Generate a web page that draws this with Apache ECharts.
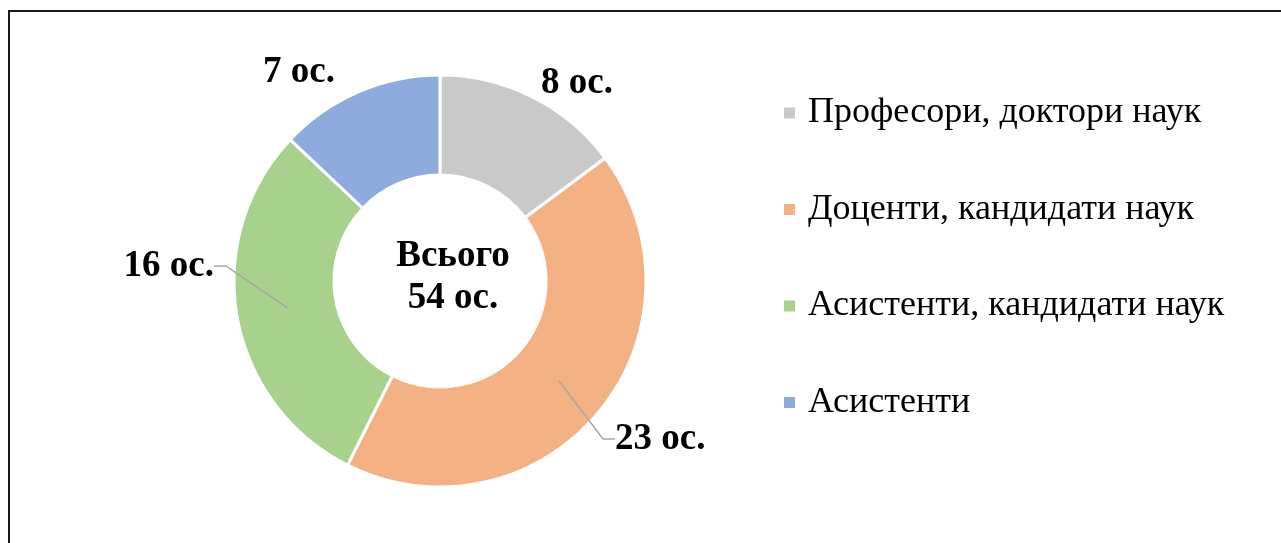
<!DOCTYPE html>
<html>
<head>
<meta charset="utf-8">
<script src="https://cdn.jsdelivr.net/npm/echarts@6/dist/echarts.min.js"></script>
<style>
  html, body { margin: 0; padding: 0; background: #fff; }
  .frame { position: absolute; left: 8px; top: 10px; width: 1400px; height: 700px; border-left: 2px solid #1a1a1a; border-top: 2px solid #1a1a1a; }
  #chart { position: absolute; left: 0; top: 0; width: 1281px; height: 543px; }
</style>
</head>
<body>
<div class="frame"></div>
<div id="chart"></div>
<script>
const categories = ['Професори, доктори наук', 'Доценти, кандидати наук', 'Асистенти, кандидати наук', 'Асистенти'];
const counts = [8, 23, 16, 7];
const colors = ['#C9C9C9', '#F4B183', '#A9D18E', '#8FAADC'];
const unit = 'ос.';

const font = "'Liberation Serif', 'Times New Roman', serif";
const total = counts.reduce((a, b) => a + b, 0);
const pieData = categories.map((name, i) => ({ name, value: counts[i], itemStyle: { color: colors[i] } }));

// label anchors, Excel puts them by hand
const labelPos = [
  { x: 535, y: 83, align: 'left', line: false },
  { x: 609, y: 439, align: 'left', line: true },
  { x: 220, y: 266, align: 'right', line: true },
  { x: 257, y: 72, align: 'left', line: false },
];

const chart = echarts.init(document.getElementById('chart'));
chart.setOption({
  animation: false,
  legend: {
    orient: 'vertical',
    left: 782,
    top: 95,
    padding: 0,
    icon: 'rect',
    itemWidth: 13,
    itemHeight: 13,
    itemGap: 60.5,
    data: categories,
    textStyle: { fontFamily: font, fontSize: 36, lineHeight: 34, color: '#000', padding: [0, 0, 0, 7] },
  },
  graphic: [{
    type: 'text',
    x: 453,
    y: 277,
    z: 10,
    style: {
      text: 'Всього\n' + total + ' ' + unit,
      fontFamily: font,
      fontWeight: 'bold',
      fontSize: 37,
      lineHeight: 42,
      fill: '#000',
      align: 'center',
      verticalAlign: 'middle',
    },
  }],
  series: [
    {
      type: 'pie',
      center: [440, 281],
      radius: [106, 206],
      startAngle: 90,
      silent: true,
      label: { show: false },
      labelLine: { show: false },
      itemStyle: { borderColor: '#fff', borderWidth: 3 },
      data: pieData,
    },
    {
      // invisible helper ring so leader lines start mid-ring
      type: 'pie',
      z: 5,
      center: [440, 281],
      radius: [0, 155],
      startAngle: 90,
      silent: true,
      avoidLabelOverlap: false,
      itemStyle: { color: 'rgba(0,0,0,0)' },
      label: {
        show: true,
        position: 'outside',
        formatter: '{c} ' + unit,
        fontFamily: font,
        fontWeight: 'bold',
        fontSize: 37,
        color: '#000',
        padding: [0, 6],
      },
      labelLine: { show: true, length: 20, length2: 12, lineStyle: { color: '#A6A6A6', width: 1.5 } },
      labelLayout: (p) => {
        const c = labelPos[p.dataIndex];
        return { x: c.x, y: c.y, align: c.align, verticalAlign: 'middle' };
      },
      data: categories.map((name, i) => ({
        name,
        value: counts[i],
        labelLine: { show: labelPos[i].line },
      })),
    },
  ],
});
</script>
</body>
</html>
